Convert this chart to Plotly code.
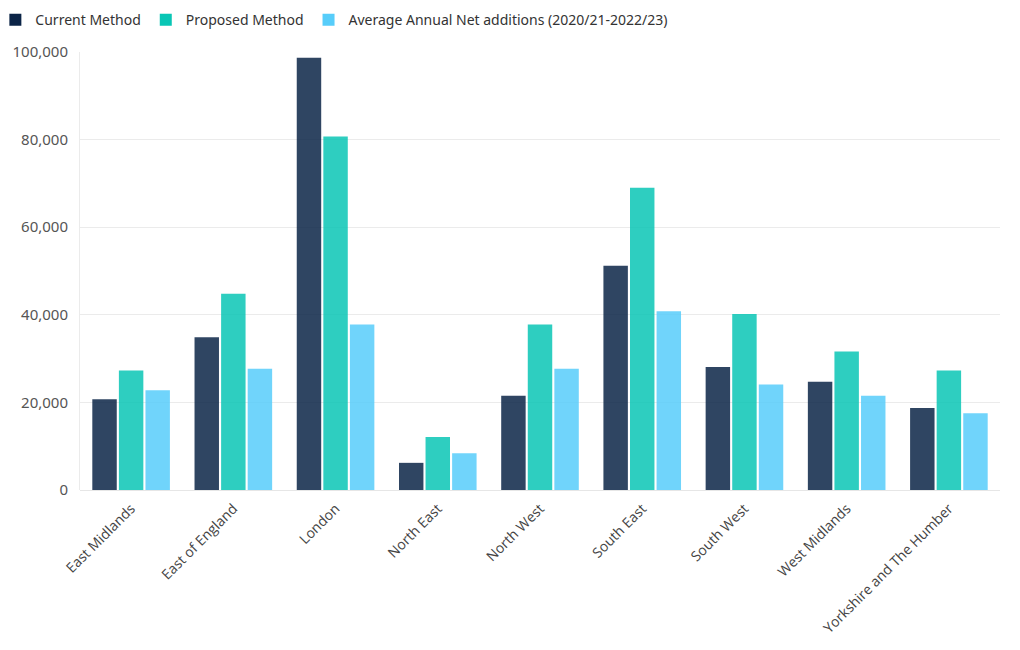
import plotly.graph_objects as go

regions = ["East Midlands", "East of England", "London", "North East", "North West",
           "South East", "South West", "West Midlands", "Yorkshire and The Humber"]
current_method = [20700, 34900, 98700, 6200, 21500, 51200, 28100, 24700, 18700]
proposed_method = [27300, 44800, 80700, 12100, 37800, 69000, 40200, 31600, 27300]
avg_net_additions = [22800, 27700, 37800, 8400, 27700, 40800, 24100, 21500, 17500]

series_names = ["Current Method", "Proposed Method",
                "Average Annual Net additions (2020/21-2022/23)"]
colors = ["#0b2447", "#09c6b5", "#57cdfa"]

fig = go.Figure()
for name, vals, col in zip(series_names, [current_method, proposed_method, avg_net_additions], colors):
    fig.add_trace(go.Bar(x=regions, y=vals, name=name,
                         marker=dict(color=col, opacity=0.85, line=dict(width=0))))

fig.update_layout(
    width=1020, height=650,
    barmode="group", bargap=0.22, bargroupgap=0.08,
    paper_bgcolor="white", plot_bgcolor="white",
    margin=dict(l=72, r=28, t=44, b=168, autoexpand=False),
    font=dict(family="Open Sans, sans-serif", color="#444"),
    legend=dict(orientation="h", xref="paper", yref="paper",
                x=-0.092, y=1.073, xanchor="left", yanchor="middle",
                font=dict(size=14, color="#333", family="Noto Sans, sans-serif"),
                itemwidth=30, tracegroupgap=0, itemsizing="constant"),
    showlegend=True,
)
fig.update_yaxes(range=[0, 100000], dtick=20000, tickformat=",", gridcolor="#ebebeb",
                 zeroline=True, zerolinecolor="#e6e6e6", zerolinewidth=1,
                 tickfont=dict(size=15, color="#555", family="Noto Sans, sans-serif"),
                 ticks="outside", ticklen=8, tickcolor="white",
                 showline=True, linecolor="#ebebeb", linewidth=1)
fig.update_xaxes(tickangle=-45, tickfont=dict(size=14, color="#444"),
                 showline=False, ticks="outside", ticklen=4, tickcolor="white")

fig.write_html("out.html")
